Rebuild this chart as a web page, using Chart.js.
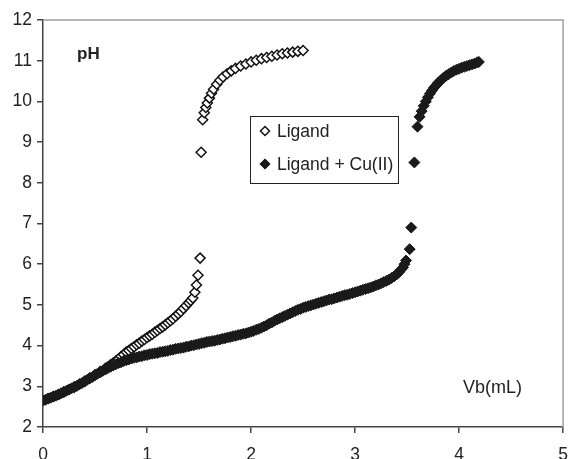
<!DOCTYPE html>
<html>
<head>
<meta charset="utf-8">
<script src="https://cdn.jsdelivr.net/npm/chart.js@4.4.0/dist/chart.umd.min.js"></script>
<style>
  html, body { margin: 0; padding: 0; background: #fff; }
  #wrap { width: 568px; height: 459px; overflow: hidden; position: relative; }
  canvas { display: block; }
</style>
</head>
<body>
<div id="wrap"><canvas id="grafica" width="580" height="470"></canvas></div>
<script>
// valores
const ligandVb = [0, 0.05, 0.1, 0.15, 0.2, 0.25, 0.3, 0.35, 0.4, 0.45, 0.5, 0.55, 0.6,
  0.625, 0.65, 0.675, 0.7, 0.725, 0.75, 0.775, 0.8, 0.825, 0.85, 0.875, 0.9, 0.925, 0.95, 0.975,
  1.0, 1.025, 1.05, 1.075, 1.1, 1.125, 1.15, 1.175, 1.2, 1.225, 1.25, 1.275, 1.3, 1.325, 1.35, 1.375,
  1.4, 1.42, 1.44, 1.46, 1.475, 1.49, 1.51,
  1.52, 1.535, 1.55, 1.565, 1.58, 1.6, 1.62, 1.64, 1.67, 1.7, 1.73, 1.77, 1.81, 1.85, 1.9, 1.95, 2.0,
  2.05, 2.1, 2.15, 2.2, 2.25, 2.3, 2.35, 2.4, 2.45, 2.5];
const ligandPH = [2.65, 2.70, 2.75, 2.80, 2.86, 2.92, 2.98, 3.05, 3.12, 3.20, 3.28, 3.36, 3.44,
  3.48, 3.53, 3.57, 3.62, 3.67, 3.73, 3.78, 3.84, 3.88, 3.93, 3.97, 4.02, 4.06, 4.11, 4.15,
  4.20, 4.24, 4.28, 4.33, 4.37, 4.42, 4.46, 4.51, 4.56, 4.61, 4.66, 4.72, 4.78, 4.84, 4.91, 4.98,
  5.05, 5.11, 5.17, 5.31, 5.49, 5.73, 6.15,
  8.75, 9.55, 9.72, 9.85, 9.96, 10.08, 10.20, 10.30, 10.42, 10.52, 10.60, 10.68, 10.75, 10.81, 10.87, 10.92, 10.97,
  11.01, 11.05, 11.08, 11.11, 11.14, 11.17, 11.19, 11.21, 11.23, 11.25];

const cuVb = [0, 0.025, 0.05, 0.075, 0.1, 0.125, 0.15, 0.175, 0.2, 0.225, 0.25, 0.275, 0.3, 0.325,
  0.35, 0.375, 0.4, 0.425, 0.45, 0.475, 0.5, 0.525, 0.55, 0.575, 0.6, 0.625, 0.65, 0.675, 0.7, 0.725,
  0.75, 0.775, 0.8, 0.825, 0.85, 0.875, 0.9, 0.925, 0.95, 0.975, 1.0, 1.025, 1.05, 1.075, 1.1, 1.125,
  1.15, 1.175, 1.2, 1.225, 1.25, 1.275, 1.3, 1.325, 1.35, 1.375, 1.4, 1.425, 1.45, 1.475, 1.5, 1.525,
  1.55, 1.575, 1.6, 1.625, 1.65, 1.675, 1.7, 1.725, 1.75, 1.775, 1.8, 1.825, 1.85, 1.875, 1.9, 1.925,
  1.95, 1.975, 2.0, 2.025, 2.05, 2.075, 2.1, 2.125, 2.15, 2.175, 2.2, 2.225, 2.25, 2.275, 2.3, 2.325,
  2.35, 2.375, 2.4, 2.425, 2.45, 2.475, 2.5, 2.525, 2.55, 2.575, 2.6, 2.625, 2.65, 2.675, 2.7, 2.725,
  2.75, 2.775, 2.8, 2.825, 2.85, 2.875, 2.9, 2.925, 2.95, 2.975, 3.0, 3.025, 3.05, 3.075, 3.1, 3.125,
  3.15, 3.175, 3.2, 3.225, 3.25, 3.275, 3.3, 3.325, 3.35, 3.375, 3.4, 3.42, 3.44, 3.46, 3.475, 3.49,
  3.525, 3.54, 3.57, 3.6, 3.62, 3.64, 3.66, 3.68, 3.7, 3.72, 3.74, 3.76, 3.78, 3.8, 3.825, 3.85,
  3.875, 3.9, 3.925, 3.95, 3.975, 4.0, 4.025, 4.05, 4.075, 4.1, 4.125, 4.15, 4.175, 4.19];
const cuPH = [2.65, 2.67, 2.70, 2.72, 2.75, 2.77, 2.80, 2.83, 2.86, 2.89, 2.92, 2.95, 2.98, 3.01,
  3.05, 3.08, 3.12, 3.16, 3.20, 3.23, 3.27, 3.31, 3.34, 3.38, 3.41, 3.45, 3.48, 3.51, 3.54, 3.57,
  3.59, 3.62, 3.64, 3.66, 3.68, 3.70, 3.71, 3.73, 3.74, 3.76, 3.77, 3.79, 3.80, 3.81, 3.82, 3.84,
  3.85, 3.86, 3.87, 3.89, 3.90, 3.92, 3.93, 3.94, 3.95, 3.97, 3.98, 4.00, 4.01, 4.03, 4.04, 4.06,
  4.07, 4.09, 4.10, 4.11, 4.12, 4.14, 4.15, 4.17, 4.18, 4.20, 4.21, 4.23, 4.24, 4.26, 4.27, 4.29,
  4.30, 4.32, 4.34, 4.36, 4.39, 4.41, 4.44, 4.47, 4.50, 4.54, 4.57, 4.61, 4.64, 4.67, 4.70, 4.73,
  4.76, 4.79, 4.82, 4.85, 4.88, 4.90, 4.93, 4.95, 4.97, 4.99, 5.01, 5.03, 5.05, 5.07, 5.09, 5.11,
  5.13, 5.14, 5.16, 5.18, 5.20, 5.22, 5.24, 5.25, 5.27, 5.29, 5.31, 5.33, 5.35, 5.37, 5.39, 5.41,
  5.43, 5.45, 5.48, 5.50, 5.53, 5.56, 5.59, 5.62, 5.66, 5.70, 5.75, 5.80, 5.86, 5.92, 6.00, 6.09,
  6.37, 6.90, 8.50, 9.38, 9.62, 9.76, 9.89, 10.00, 10.10, 10.19, 10.27, 10.34, 10.40, 10.46, 10.52, 10.58,
  10.63, 10.67, 10.71, 10.75, 10.78, 10.80, 10.83, 10.85, 10.87, 10.89, 10.91, 10.93, 10.96, 10.97];

const seriesNames = ['Ligand', 'Ligand + Cu(II)'];
const xTicks = [0, 1, 2, 3, 4, 5];
const yTicks = [2, 3, 4, 5, 6, 7, 8, 9, 10, 11, 12];

const toPoints = (xs, ys) => xs.map((x, i) => ({ x: x, y: ys[i] }));

// borde gris, textos y leyenda dentro del grafico
const decoraciones = {
  id: 'decoraciones',
  afterDraw(chart) {
    const { ctx, chartArea } = chart;
    ctx.save();
    // bordes superior y derecho
    ctx.strokeStyle = '#a0a0a0';
    ctx.lineWidth = 1.5;
    ctx.beginPath();
    ctx.moveTo(chartArea.left, chartArea.top);
    ctx.lineTo(chartArea.right, chartArea.top);
    ctx.lineTo(chartArea.right, chartArea.bottom);
    ctx.stroke();

    ctx.fillStyle = '#222';
    ctx.textBaseline = 'alphabetic';
    ctx.textAlign = 'left';
    ctx.font = 'bold 17px "Liberation Sans", Arial, sans-serif';
    ctx.fillText('pH', 77, 59);
    ctx.font = '18px "Liberation Sans", Arial, sans-serif';
    ctx.fillText('Vb(mL)', 463, 393);

    // leyenda
    ctx.strokeStyle = '#222';
    ctx.lineWidth = 1;
    ctx.fillStyle = '#fff';
    ctx.fillRect(250.5, 116.5, 148, 67);
    ctx.strokeRect(250.5, 116.5, 148, 67);
    const filas = [131, 164];
    chart.data.datasets.forEach((ds, i) => {
      const y = filas[i];
      const r = 4.5;
      ctx.beginPath();
      ctx.moveTo(265, y - r);
      ctx.lineTo(265 + r, y);
      ctx.lineTo(265, y + r);
      ctx.lineTo(265 - r, y);
      ctx.closePath();
      ctx.fillStyle = ds.backgroundColor;
      ctx.fill();
      ctx.lineWidth = 1.5;
      ctx.strokeStyle = '#111';
      ctx.stroke();
      ctx.fillStyle = '#222';
      ctx.font = '17.5px "Liberation Sans", Arial, sans-serif';
      ctx.fillText(ds.label, 277, y + 6);
    });
    ctx.restore();
  }
};

document.addEventListener('DOMContentLoaded', function() {
  const ctx = document.getElementById('grafica').getContext('2d');
  const fuente = { family: '"Liberation Sans", Arial, sans-serif', size: 17.5 };

  new Chart(ctx, {
    type: 'scatter',
    data: {
      datasets: [
        {
          label: seriesNames[0],
          data: toPoints(ligandVb, ligandPH),
          pointStyle: 'rectRot',
          pointRadius: 5,
          backgroundColor: '#ffffff',
          borderColor: '#111',
          borderWidth: 1.5,
          order: 1
        },
        {
          label: seriesNames[1],
          data: toPoints(cuVb, cuPH),
          pointStyle: 'rectRot',
          pointRadius: 5.5,
          backgroundColor: '#1a1a1a',
          borderColor: '#1a1a1a',
          borderWidth: 1,
          order: 0
        }
      ]
    },
    options: {
      responsive: false,
      animation: false,
      layout: { padding: { top: 20, left: 0, right: 0, bottom: 0 } },
      plugins: {
        legend: { display: false },
        tooltip: { enabled: false }
      },
      scales: {
        x: {
          type: 'linear',
          min: xTicks[0],
          max: xTicks[xTicks.length - 1],
          afterBuildTicks: (s) => { s.ticks = xTicks.map(v => ({ value: v })); },
          afterFit: (s) => { s.height = 43; },
          ticks: { color: '#222', font: fuente, padding: 12, maxRotation: 0 },
          grid: { drawOnChartArea: false, drawTicks: true, tickLength: 6, color: '#444', lineWidth: 1.5 },
          border: { color: '#444', width: 1.5 }
        },
        y: {
          type: 'linear',
          min: yTicks[0],
          max: yTicks[yTicks.length - 1],
          afterBuildTicks: (s) => { s.ticks = yTicks.map(v => ({ value: v })); },
          afterFit: (s) => { s.width = 43; },
          ticks: { color: '#222', font: fuente, padding: 5 },
          grid: { drawOnChartArea: false, drawTicks: true, tickLength: 6, color: '#444', lineWidth: 1.5 },
          border: { color: '#444', width: 1.5 }
        }
      }
    },
    plugins: [decoraciones]
  });
});
</script>
</body>
</html>
